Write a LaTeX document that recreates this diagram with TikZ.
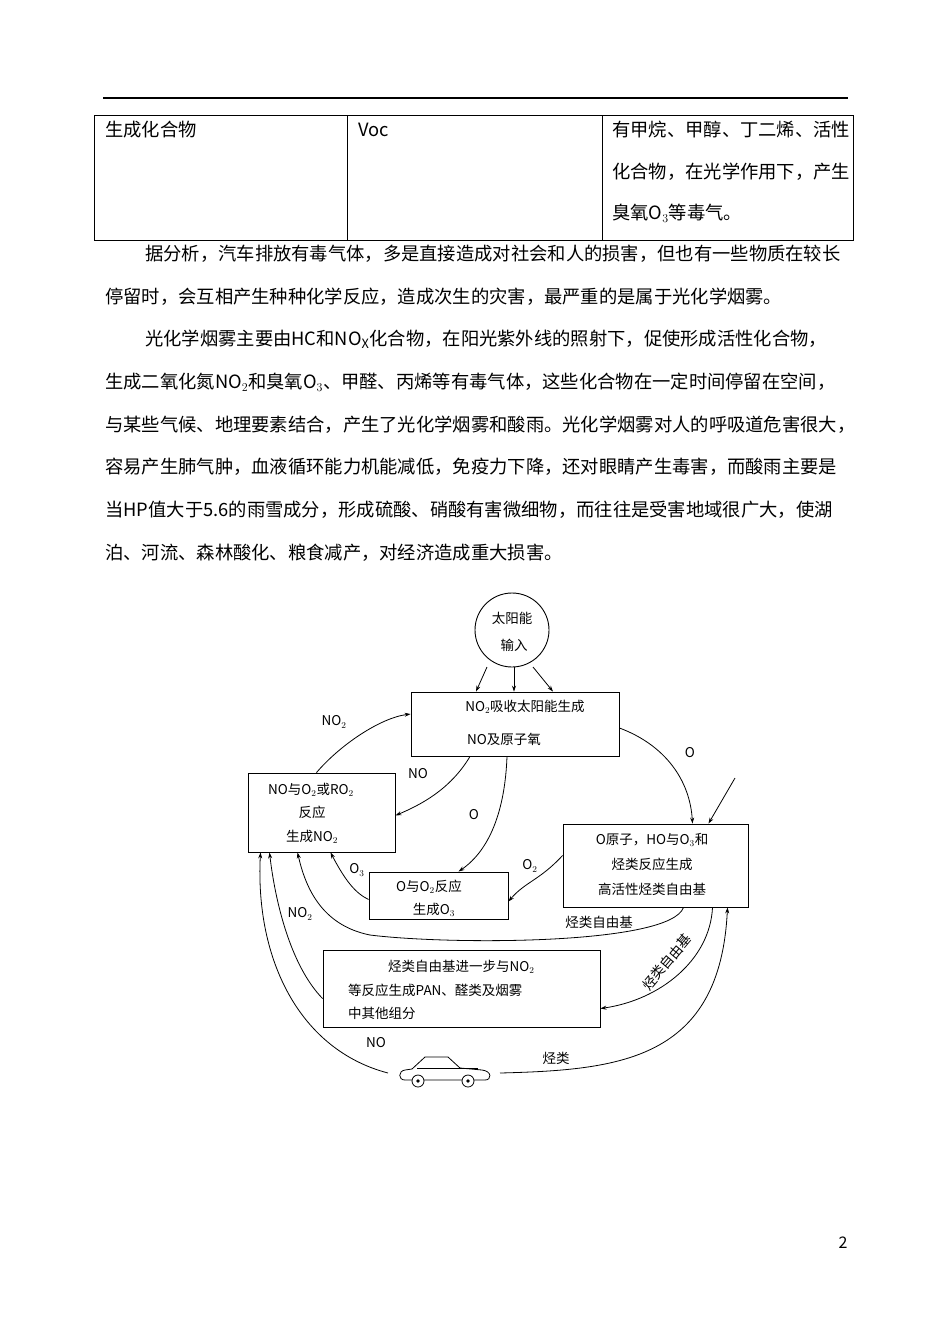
\documentclass[tikz,border=0pt]{standalone}
\usepackage{fontspec}
\setmainfont{Noto Sans CJK SC}
\usetikzlibrary{arrows.meta}
\begin{document}
\begin{tikzpicture}[x=1pt,y=-1pt,
  body/.style={anchor=west,inner sep=0pt,font=\fontsize{18.3}{19}\selectfont},
  box/.style={draw,line width=0.9pt,inner sep=0pt},
  dt/.style={inner sep=0pt,font=\fontsize{13.5}{14}\selectfont},
  lab/.style={inner sep=0pt,font=\fontsize{13.5}{14}\selectfont},
  conn/.style={line width=0.8pt,-{Stealth[length=6pt,width=4pt]}},
  plain/.style={line width=0.8pt}]
\useasboundingbox (0,0) rectangle (950,1342);
\fill[white] (0,0) rectangle (950,1342);
% header rule
\draw[line width=1.5pt] (103,98) -- (848,98);
% table
\draw[line width=0.9pt] (94,115) rectangle (853,240);
\draw[line width=0.9pt] (347,115) -- (347,240) (602,115) -- (602,240);
\node[body] (t1) at (105,130) {生成化合物};
\node[body] (t2) at (358,130) {Voc};
\node[body] (t3) at (612,130) {有甲烷、甲醇、丁二烯、活性};
\node[body] (t4) at (612,172) {化合物，在光学作用下，产生};
\node[body] (t5) at (612,213) {臭氧O$_3$等毒气。};
% paragraphs
\node[body] (p1) at (145,254) {据分析，汽车排放有毒气体，多是直接造成对社会和人的损害，但也有一些物质在较长};
\node[body] (p2) at (105,297) {停留时，会互相产生种种化学反应，造成次生的灾害，最严重的是属于光化学烟雾。};
\node[body] (p3) at (145,339) {光化学烟雾主要由HC和NO$_\mathrm{X}$化合物，在阳光紫外线的照射下，促使形成活性化合物，};
\node[body] (p4) at (105,382) {生成二氧化氮NO$_2$和臭氧O$_3$、甲醛、丙烯等有毒气体，这些化合物在一定时间停留在空间，};
\node[body] (p5) at (105,425) {与某些气候、地理要素结合，产生了光化学烟雾和酸雨。光化学烟雾对人的呼吸道危害很大，};
\node[body] (p6) at (105,467) {容易产生肺气肿，血液循环能力机能减低，免疫力下降，还对眼睛产生毒害，而酸雨主要是};
\node[body] (p7) at (105,510) {当HP值大于5.6的雨雪成分，形成硫酸、硝酸有害微细物，而往往是受害地域很广大，使湖};
\node[body] (p8) at (105,553) {泊、河流、森林酸化、粮食减产，对经济造成重大损害。};
% diagram
\node[draw,circle,line width=0.9pt,minimum size=74pt,inner sep=0pt] (sun) at (512,630) {};
\node[dt] (sunt1) at (512,618) {太阳能};
\node[dt] (sunt2) at (514,645) {输入};
\node[box,minimum width=208pt,minimum height=64pt] (b1) at (515,724) {};
\node[dt] (b1a) at (525,707) {NO$_2$吸收太阳能生成};
\node[dt] (b1b) at (504,739) {NO及原子氧};
\node[box,minimum width=147pt,minimum height=79pt] (b2) at (321.5,812.5) {};
\node[dt] (b2a) at (311,790) {NO与O$_2$或RO$_2$};
\node[dt] (b2b) at (312,812) {反应};
\node[dt] (b2c) at (312,837) {生成NO$_2$};
\node[box,minimum width=139pt,minimum height=47pt] (b3) at (438.5,895.5) {};
\node[dt] (b3a) at (429,887) {O与O$_2$反应};
\node[dt] (b3b) at (434,910) {生成O$_3$};
\node[box,minimum width=185pt,minimum height=83pt] (b4) at (655.5,865.5) {};
\node[dt] (b4a) at (652,840) {O原子，HO与O$_3$和};
\node[dt] (b4b) at (652,864) {烃类反应生成};
\node[dt] (b4c) at (652,889) {高活性烃类自由基};
\node[box,minimum width=277pt,minimum height=77pt] (b5) at (461.5,988.5) {};
\node[dt,anchor=west] (b5a) at (388,967) {烃类自由基进一步与NO$_2$};
\node[dt,anchor=west] (b5b) at (348,990) {等反应生成PAN、醛类及烟雾};
\node[dt,anchor=west] (b5c) at (348,1013) {中其他组分};
% car
\draw[line width=0.8pt] (405,1080) -- (485,1080) .. controls (492,1080) and (492,1071) .. (482,1070)
  -- (460,1068) -- (448,1057) -- (425,1057) -- (412,1069) -- (405,1070) .. controls (398,1071) and (398,1080) .. (405,1080);
\draw[line width=0.8pt] (417,1068) -- (478,1068);
\draw[line width=0.8pt,fill=white] (418,1081) circle (6pt) (468,1081) circle (6pt);
\fill (418,1081) circle (1.8pt) (468,1081) circle (1.8pt);
\coordinate (carL) at (388,1073);
\coordinate (carR) at (500,1073);
\coordinate (free) at (735,778);
% connectors
\draw[conn] (487,667) -- ([xshift=-39pt]b1.north);
\draw[conn] (514,667) -- ([xshift=-1pt]b1.north);
\draw[conn] (533,667) -- ([xshift=38pt]b1.north);
\draw[conn] ([xshift=-5pt]b2.north) .. controls (340,745) and (380,718) .. ([yshift=10pt]b1.west);
\node[lab] (l1) at (334,722) {NO$_2$};
\draw[conn] ([xshift=-45pt]b1.south) .. controls (450,790) and (420,805) .. ([yshift=-3pt]b2.east);
\node[lab] (l2) at (418,774) {NO};
\draw[conn] ([xshift=-8pt]b1.south) .. controls (505,810) and (490,850) .. ([xshift=20pt]b3.north);
\node[lab] (l3) at (474,815) {O};
\draw[conn] ([yshift=-4pt]b1.east) .. controls (665,745) and (690,780) .. ([xshift=37pt]b4.north);
\node[lab] (l4) at (690,753) {O};
\draw[conn] (free) -- ([xshift=53pt]b4.north);
\draw[conn] ([yshift=10pt]b4.west) .. controls (540,880) and (525,882) .. ([yshift=-6pt]b3.east);
\node[lab] (l5) at (530,866) {O$_2$};
\draw[conn] ([yshift=-4pt]b3.west) .. controls (355,893) and (345,880) .. ([xshift=9pt]b2.south);
\node[lab] (l6) at (357,870) {O$_3$};
\draw[conn] ([xshift=28pt]b4.south) .. controls (670,945) and (450,945) .. (370,935) .. controls (320,925) and (305,885) .. ([xshift=-24pt]b2.south);
\node[lab] (l7) at (599,922) {烃类自由基};
\draw[conn] ([xshift=57pt]b4.south) .. controls (710,960) and (660,1000) .. ([yshift=-20pt]b5.east);
\node[lab,rotate=50] (l8) at (667,962) {烃类自由基};
\draw[conn] ([yshift=-10pt]b5.west) .. controls (290,965) and (275,900) .. ([xshift=-52pt]b2.south);
\node[lab] (l9) at (300,914) {NO$_2$};
\draw[conn] (carL) .. controls (300,1050) and (255,960) .. ([xshift=-61pt]b2.south);
\node[lab] (l10) at (376,1043) {NO};
\draw[conn] (carR) .. controls (620,1070) and (720,1060) .. ([xshift=72pt]b4.south);
\node[lab] (l11) at (556,1058) {烃类};
% page number
\node[inner sep=0pt,font=\fontsize{16}{16}\selectfont] (pg) at (843,1243) {2};
\end{tikzpicture}
\end{document}
